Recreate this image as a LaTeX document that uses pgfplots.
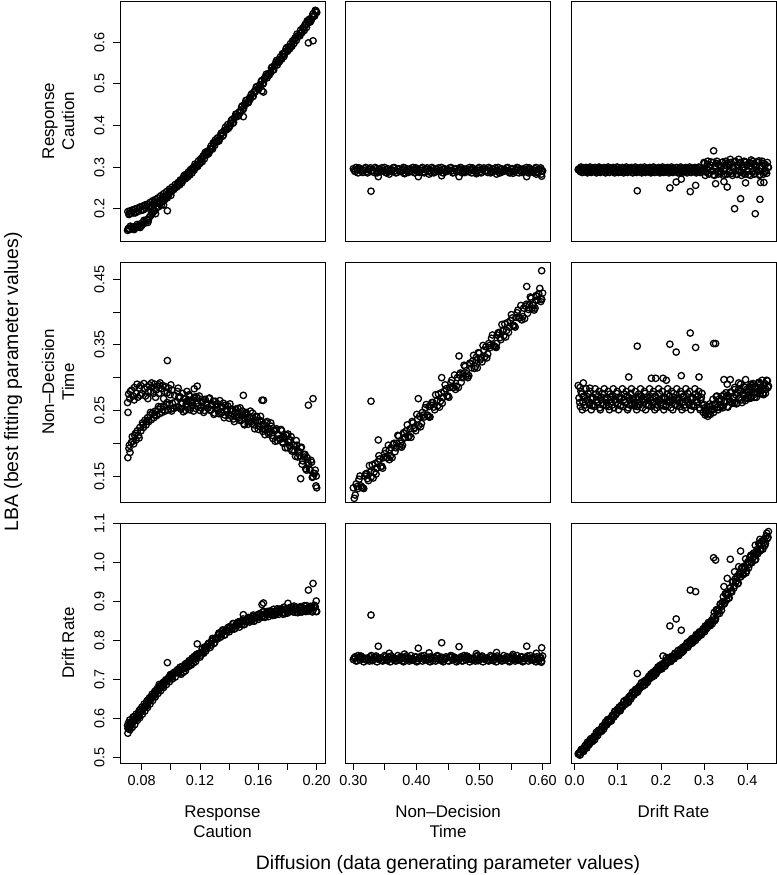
\documentclass[border=0pt]{standalone}
\usepackage{fontspec}
\setmainfont{Liberation Sans}
\usepackage{pgfplots}
\usepackage{pgfplotstable}
\pgfplotsset{compat=1.18}

% Column 1: x = diffusion response caution; y1,y2,y3 = LBA caution, non-decision time, drift rate
\pgfplotstableread{
x y1 y2 y3
0.0705 0.193 0.178 0.563
0.0712 0.186 0.192 0.580
0.0720 0.195 0.186 0.572
0.0728 0.189 0.201 0.586
0.0735 0.197 0.210 0.578
0.0745 0.190 0.199 0.594
0.0752 0.199 0.212 0.585
0.0760 0.192 0.205 0.601
0.0770 0.201 0.219 0.596
0.0778 0.194 0.212 0.611
0.0787 0.204 0.224 0.603
0.0795 0.196 0.219 0.618
0.0805 0.206 0.231 0.612
0.0812 0.198 0.224 0.627
0.0822 0.209 0.235 0.620
0.0830 0.201 0.228 0.636
0.0840 0.211 0.239 0.629
0.0848 0.205 0.233 0.645
0.0857 0.215 0.243 0.638
0.0866 0.208 0.236 0.653
0.0875 0.219 0.246 0.647
0.0884 0.211 0.239 0.662
0.0893 0.222 0.249 0.656
0.0902 0.215 0.242 0.671
0.0912 0.226 0.252 0.665
0.0921 0.219 0.245 0.679
0.0930 0.231 0.255 0.672
0.0940 0.224 0.247 0.687
0.0950 0.236 0.257 0.680
0.0960 0.230 0.249 0.695
0.0970 0.241 0.259 0.688
0.0980 0.236 0.251 0.702
0.0990 0.247 0.260 0.695
0.1000 0.241 0.252 0.710
0.1010 0.252 0.261 0.702
0.1020 0.246 0.253 0.715
0.1030 0.258 0.262 0.707
0.1040 0.252 0.255 0.719
0.0715 0.188 0.197 0.575
0.0738 0.196 0.203 0.590
0.0757 0.190 0.215 0.597
0.0782 0.200 0.208 0.607
0.0808 0.197 0.228 0.624
0.0835 0.207 0.233 0.633
0.0860 0.204 0.247 0.650
0.0888 0.216 0.243 0.660
0.0915 0.213 0.256 0.676
0.0945 0.229 0.251 0.684
0.0975 0.226 0.262 0.699
0.1005 0.246 0.249 0.706
0.0703 0.148 0.262 0.583
0.0706 0.151 0.247 0.575
0.0710 0.153 0.275 0.590
0.0718 0.150 0.268 0.597
0.0731 0.155 0.281 0.593
0.0740 0.152 0.272 0.604
0.0750 0.157 0.285 0.600
0.0762 0.154 0.276 0.612
0.0773 0.159 0.270 0.609
0.0783 0.157 0.284 0.621
0.0793 0.164 0.288 0.617
0.0801 0.160 0.276 0.630
0.0817 0.169 0.283 0.638
0.0826 0.166 0.272 0.634
0.0836 0.174 0.286 0.646
0.0845 0.172 0.278 0.642
0.0853 0.180 0.289 0.654
0.0862 0.184 0.279 0.651
0.0871 0.187 0.286 0.663
0.0880 0.193 0.276 0.660
0.0889 0.195 0.290 0.670
0.0898 0.200 0.281 0.667
0.0908 0.204 0.287 0.678
0.0917 0.205 0.276 0.674
0.0926 0.212 0.292 0.685
0.0935 0.209 0.283 0.681
0.0945 0.218 0.288 0.692
0.0955 0.220 0.279 0.690
0.0965 0.226 0.286 0.700
0.0975 0.230 0.277 0.697
0.0985 0.233 0.284 0.706
0.0995 0.240 0.274 0.712
0.1008 0.243 0.281 0.714
0.1025 0.249 0.273 0.720
0.1045 0.256 0.279 0.726
0.1062 0.263 0.271 0.732
0.1080 0.270 0.276 0.735
0.1100 0.277 0.268 0.741
0.1125 0.284 0.274 0.749
0.1150 0.295 0.266 0.756
0.1175 0.300 0.271 0.765
0.1181 0.306 0.287 0.792
0.0722 0.158 0.279 0.588
0.0748 0.150 0.266 0.606
0.0768 0.162 0.290 0.603
0.0790 0.155 0.273 0.624
0.0815 0.172 0.291 0.628
0.0842 0.167 0.268 0.648
0.0868 0.190 0.292 0.656
0.0895 0.188 0.270 0.672
0.0920 0.215 0.289 0.688
0.0950 0.209 0.268 0.694
0.1000 0.232 0.289 0.714
0.1050 0.262 0.284 0.722
0.1110 0.283 0.279 0.743
0.1160 0.298 0.283 0.760
0.105 0.263 0.255 0.718
0.106 0.257 0.269 0.726
0.107 0.267 0.252 0.714
0.108 0.267 0.261 0.728
0.109 0.279 0.268 0.732
0.110 0.272 0.250 0.723
0.111 0.281 0.264 0.736
0.112 0.288 0.266 0.734
0.113 0.281 0.251 0.749
0.114 0.292 0.262 0.738
0.115 0.298 0.257 0.749
0.116 0.293 0.270 0.757
0.117 0.303 0.253 0.747
0.118 0.303 0.261 0.761
0.119 0.315 0.268 0.767
0.120 0.309 0.250 0.758
0.121 0.318 0.264 0.771
0.122 0.326 0.265 0.770
0.123 0.320 0.250 0.784
0.124 0.332 0.260 0.774
0.125 0.338 0.254 0.785
0.126 0.333 0.268 0.794
0.127 0.344 0.250 0.783
0.128 0.345 0.258 0.798
0.129 0.358 0.264 0.803
0.130 0.352 0.246 0.795
0.131 0.361 0.259 0.807
0.132 0.370 0.260 0.805
0.133 0.363 0.245 0.820
0.134 0.376 0.255 0.809
0.135 0.382 0.248 0.819
0.136 0.377 0.261 0.826
0.137 0.388 0.243 0.815
0.138 0.389 0.251 0.828
0.139 0.402 0.257 0.833
0.140 0.396 0.238 0.823
0.141 0.405 0.251 0.834
0.142 0.414 0.252 0.831
0.143 0.407 0.237 0.844
0.144 0.420 0.247 0.832
0.145 0.426 0.240 0.841
0.146 0.422 0.253 0.848
0.147 0.433 0.235 0.835
0.148 0.434 0.243 0.848
0.149 0.447 0.249 0.851
0.150 0.442 0.230 0.841
0.151 0.452 0.243 0.851
0.152 0.460 0.245 0.848
0.153 0.454 0.229 0.860
0.154 0.466 0.240 0.848
0.155 0.473 0.233 0.856
0.156 0.469 0.246 0.862
0.157 0.479 0.228 0.850
0.158 0.481 0.234 0.862
0.159 0.493 0.240 0.866
0.160 0.488 0.221 0.855
0.161 0.497 0.234 0.865
0.162 0.506 0.234 0.861
0.163 0.499 0.218 0.874
0.164 0.512 0.227 0.861
0.165 0.518 0.220 0.869
0.166 0.514 0.233 0.875
0.167 0.524 0.214 0.862
0.168 0.526 0.221 0.873
0.169 0.538 0.226 0.876
0.170 0.533 0.207 0.865
0.171 0.543 0.220 0.875
0.172 0.551 0.220 0.870
0.173 0.545 0.204 0.882
0.174 0.557 0.213 0.868
0.175 0.564 0.206 0.876
0.176 0.559 0.219 0.882
0.177 0.570 0.200 0.868
0.178 0.571 0.207 0.880
0.179 0.584 0.212 0.882
0.180 0.578 0.193 0.871
0.181 0.588 0.205 0.880
0.182 0.596 0.205 0.876
0.183 0.590 0.188 0.887
0.184 0.602 0.197 0.874
0.185 0.609 0.188 0.881
0.186 0.604 0.204 0.886
0.187 0.615 0.179 0.872
0.188 0.616 0.187 0.884
0.189 0.629 0.193 0.886
0.190 0.623 0.168 0.874
0.191 0.633 0.183 0.883
0.192 0.642 0.183 0.879
0.193 0.635 0.159 0.890
0.194 0.648 0.171 0.876
0.195 0.655 0.160 0.883
0.196 0.651 0.174 0.888
0.197 0.662 0.148 0.874
0.198 0.663 0.154 0.885
0.199 0.676 0.159 0.887
0.200 0.671 0.132 0.875
0.1055 0.258 0.271 0.723
0.1065 0.269 0.253 0.717
0.1075 0.262 0.262 0.733
0.1085 0.273 0.248 0.719
0.1095 0.281 0.268 0.731
0.1105 0.276 0.260 0.730
0.1115 0.276 0.256 0.741
0.1125 0.282 0.272 0.744
0.1135 0.294 0.254 0.739
0.1145 0.286 0.263 0.755
0.1155 0.298 0.249 0.743
0.1165 0.307 0.268 0.755
0.1175 0.302 0.260 0.755
0.1185 0.302 0.256 0.766
0.1195 0.308 0.272 0.768
0.1205 0.320 0.254 0.763
0.1215 0.313 0.262 0.780
0.1225 0.326 0.247 0.768
0.1235 0.335 0.267 0.780
0.1245 0.330 0.258 0.780
0.1255 0.331 0.254 0.792
0.1265 0.338 0.269 0.794
0.1275 0.350 0.251 0.789
0.1285 0.343 0.260 0.806
0.1295 0.356 0.244 0.793
0.1305 0.365 0.264 0.806
0.1315 0.361 0.255 0.805
0.1325 0.362 0.250 0.816
0.1335 0.368 0.265 0.818
0.1345 0.381 0.246 0.812
0.1355 0.374 0.255 0.828
0.1365 0.387 0.239 0.815
0.1375 0.396 0.258 0.826
0.1385 0.391 0.249 0.824
0.1395 0.393 0.244 0.835
0.1405 0.399 0.260 0.836
0.1415 0.412 0.241 0.829
0.1425 0.405 0.249 0.844
0.1435 0.417 0.233 0.830
0.1445 0.427 0.252 0.841
0.1455 0.422 0.244 0.839
0.1465 0.424 0.239 0.848
0.1475 0.431 0.254 0.849
0.1485 0.444 0.235 0.842
0.1495 0.438 0.243 0.856
0.1505 0.450 0.228 0.842
0.1515 0.460 0.247 0.852
0.1525 0.455 0.239 0.850
0.1535 0.457 0.234 0.859
0.1545 0.464 0.249 0.859
0.1555 0.476 0.230 0.852
0.1565 0.470 0.238 0.866
0.1575 0.483 0.222 0.852
0.1585 0.492 0.241 0.862
0.1595 0.488 0.232 0.859
0.1605 0.489 0.226 0.869
0.1615 0.496 0.241 0.869
0.1625 0.508 0.222 0.861
0.1635 0.501 0.229 0.875
0.1645 0.514 0.213 0.860
0.1655 0.523 0.231 0.870
0.1665 0.519 0.222 0.867
0.1675 0.521 0.217 0.876
0.1685 0.527 0.231 0.876
0.1695 0.540 0.212 0.868
0.1705 0.533 0.219 0.881
0.1715 0.546 0.203 0.866
0.1725 0.556 0.222 0.876
0.1735 0.551 0.212 0.872
0.1745 0.553 0.207 0.881
0.1755 0.559 0.221 0.880
0.1765 0.572 0.202 0.872
0.1775 0.565 0.210 0.886
0.1785 0.577 0.193 0.870
0.1795 0.587 0.212 0.880
0.1805 0.582 0.202 0.876
0.1815 0.584 0.196 0.885
0.1825 0.591 0.210 0.884
0.1835 0.603 0.190 0.875
0.1845 0.597 0.197 0.889
0.1855 0.609 0.180 0.873
0.1865 0.619 0.197 0.882
0.1875 0.614 0.187 0.879
0.1885 0.615 0.181 0.887
0.1895 0.622 0.194 0.886
0.1905 0.634 0.173 0.877
0.1915 0.628 0.179 0.890
0.1925 0.641 0.161 0.875
0.1935 0.651 0.178 0.884
0.1945 0.647 0.167 0.880
0.1955 0.648 0.159 0.888
0.1965 0.655 0.171 0.887
0.1975 0.668 0.149 0.878
0.1985 0.662 0.154 0.891
0.1995 0.675 0.135 0.875
0.0976 0.195 0.326 0.744
0.1497 0.421 0.273 0.867
0.1625 0.483 0.2655 0.893
0.1635 0.480 0.2655 0.897
0.1803 0.581 0.214 0.896
0.1890 0.622 0.146 0.874
0.1943 0.598 0.258 0.930
0.1975 0.603 0.268 0.947
0.1997 0.672 0.150 0.902
}\colA

% Column 2: x = diffusion non-decision time
\pgfplotstableread{
x y1 y2 y3
0.300 0.296 0.132 0.752
0.303 0.289 0.121 0.759
0.306 0.294 0.134 0.749
0.309 0.298 0.145 0.757
0.312 0.291 0.135 0.761
0.315 0.287 0.132 0.753
0.318 0.296 0.150 0.755
0.321 0.289 0.154 0.750
0.324 0.294 0.143 0.752
0.327 0.298 0.156 0.759
0.330 0.291 0.167 0.749
0.333 0.287 0.156 0.757
0.336 0.296 0.153 0.761
0.339 0.289 0.172 0.753
0.342 0.294 0.176 0.755
0.345 0.298 0.165 0.750
0.348 0.291 0.178 0.752
0.351 0.287 0.189 0.759
0.354 0.296 0.178 0.749
0.357 0.289 0.175 0.757
0.360 0.294 0.193 0.761
0.363 0.298 0.198 0.753
0.366 0.291 0.187 0.755
0.369 0.287 0.200 0.750
0.372 0.296 0.211 0.752
0.375 0.289 0.200 0.759
0.378 0.294 0.197 0.749
0.381 0.298 0.215 0.757
0.384 0.291 0.219 0.761
0.387 0.287 0.209 0.753
0.390 0.296 0.222 0.755
0.393 0.289 0.233 0.750
0.396 0.294 0.222 0.752
0.399 0.298 0.219 0.759
0.402 0.291 0.237 0.749
0.405 0.287 0.241 0.757
0.408 0.296 0.230 0.761
0.411 0.289 0.243 0.753
0.414 0.294 0.254 0.755
0.417 0.298 0.243 0.750
0.420 0.291 0.240 0.752
0.423 0.287 0.258 0.759
0.426 0.296 0.262 0.749
0.429 0.289 0.251 0.757
0.432 0.294 0.264 0.761
0.435 0.298 0.275 0.753
0.438 0.291 0.264 0.755
0.441 0.287 0.261 0.750
0.444 0.296 0.279 0.752
0.447 0.289 0.283 0.759
0.450 0.294 0.272 0.749
0.453 0.298 0.285 0.757
0.456 0.291 0.296 0.761
0.459 0.287 0.285 0.753
0.462 0.296 0.282 0.755
0.465 0.289 0.300 0.750
0.468 0.294 0.304 0.752
0.471 0.298 0.293 0.759
0.474 0.291 0.306 0.749
0.477 0.287 0.317 0.757
0.480 0.296 0.306 0.761
0.483 0.289 0.303 0.753
0.486 0.294 0.321 0.755
0.489 0.298 0.325 0.750
0.492 0.291 0.314 0.752
0.495 0.287 0.327 0.759
0.498 0.296 0.338 0.749
0.501 0.289 0.327 0.757
0.504 0.294 0.324 0.761
0.507 0.298 0.342 0.753
0.510 0.291 0.347 0.755
0.513 0.287 0.336 0.750
0.516 0.296 0.349 0.752
0.519 0.289 0.360 0.759
0.522 0.294 0.349 0.749
0.525 0.298 0.347 0.757
0.528 0.291 0.365 0.761
0.531 0.287 0.369 0.753
0.534 0.296 0.358 0.755
0.537 0.289 0.371 0.750
0.540 0.294 0.382 0.752
0.543 0.298 0.372 0.759
0.546 0.291 0.369 0.749
0.549 0.287 0.387 0.757
0.552 0.296 0.391 0.761
0.555 0.289 0.379 0.753
0.558 0.294 0.392 0.755
0.561 0.298 0.403 0.750
0.564 0.291 0.391 0.752
0.567 0.287 0.388 0.759
0.570 0.296 0.406 0.749
0.573 0.289 0.409 0.757
0.576 0.294 0.398 0.761
0.579 0.298 0.411 0.753
0.582 0.291 0.421 0.755
0.585 0.287 0.410 0.750
0.588 0.296 0.406 0.752
0.591 0.289 0.424 0.759
0.594 0.294 0.428 0.749
0.597 0.298 0.416 0.757
0.600 0.291 0.429 0.761
0.3015 0.292 0.116 0.756
0.3045 0.299 0.138 0.748
0.3075 0.286 0.131 0.762
0.3105 0.295 0.150 0.751
0.3135 0.290 0.133 0.758
0.3165 0.292 0.131 0.746
0.3195 0.299 0.153 0.754
0.3225 0.286 0.146 0.756
0.3255 0.295 0.166 0.748
0.3285 0.290 0.149 0.762
0.3315 0.292 0.147 0.751
0.3345 0.299 0.169 0.758
0.3375 0.286 0.162 0.746
0.3405 0.295 0.181 0.754
0.3435 0.290 0.164 0.756
0.3465 0.292 0.162 0.748
0.3495 0.299 0.184 0.762
0.3525 0.286 0.178 0.751
0.3555 0.295 0.197 0.758
0.3585 0.290 0.180 0.746
0.3615 0.292 0.178 0.754
0.3645 0.299 0.200 0.756
0.3675 0.286 0.193 0.748
0.3705 0.295 0.212 0.762
0.3735 0.290 0.195 0.751
0.3765 0.292 0.194 0.758
0.3795 0.299 0.216 0.746
0.3825 0.286 0.209 0.754
0.3855 0.295 0.228 0.756
0.3885 0.290 0.211 0.748
0.3915 0.292 0.209 0.762
0.3945 0.299 0.231 0.751
0.3975 0.286 0.224 0.758
0.4005 0.295 0.244 0.746
0.4035 0.290 0.227 0.754
0.4065 0.292 0.225 0.756
0.4095 0.299 0.247 0.748
0.4125 0.286 0.240 0.762
0.4155 0.295 0.259 0.751
0.4185 0.290 0.242 0.758
0.4215 0.292 0.240 0.746
0.4245 0.299 0.262 0.754
0.4275 0.286 0.255 0.756
0.4305 0.295 0.274 0.748
0.4335 0.290 0.257 0.762
0.4365 0.292 0.255 0.751
0.4395 0.299 0.277 0.758
0.4425 0.286 0.270 0.746
0.4455 0.295 0.289 0.754
0.4485 0.290 0.272 0.756
0.4515 0.292 0.270 0.748
0.4545 0.299 0.292 0.762
0.4575 0.286 0.285 0.751
0.4605 0.295 0.304 0.758
0.4635 0.290 0.287 0.746
0.4665 0.292 0.285 0.754
0.4695 0.299 0.307 0.756
0.4725 0.286 0.300 0.748
0.4755 0.295 0.319 0.762
0.4785 0.290 0.302 0.751
0.4815 0.292 0.300 0.758
0.4845 0.299 0.322 0.746
0.4875 0.286 0.315 0.754
0.4905 0.295 0.334 0.756
0.4935 0.290 0.317 0.748
0.4965 0.292 0.315 0.762
0.4995 0.299 0.337 0.751
0.5025 0.286 0.330 0.758
0.5055 0.295 0.349 0.746
0.5085 0.290 0.332 0.754
0.5115 0.292 0.330 0.756
0.5145 0.299 0.352 0.748
0.5175 0.286 0.346 0.762
0.5205 0.295 0.365 0.751
0.5235 0.290 0.348 0.758
0.5265 0.292 0.346 0.746
0.5295 0.299 0.368 0.754
0.5325 0.286 0.361 0.756
0.5355 0.295 0.381 0.748
0.5385 0.290 0.364 0.762
0.5415 0.292 0.362 0.751
0.5445 0.299 0.384 0.758
0.5475 0.286 0.377 0.746
0.5505 0.295 0.396 0.754
0.5535 0.290 0.379 0.756
0.5565 0.292 0.377 0.748
0.5595 0.299 0.399 0.762
0.5625 0.286 0.391 0.751
0.5655 0.295 0.410 0.758
0.5685 0.290 0.393 0.746
0.5715 0.292 0.390 0.754
0.5745 0.299 0.412 0.756
0.5775 0.286 0.404 0.748
0.5805 0.295 0.423 0.762
0.5835 0.290 0.406 0.751
0.5865 0.292 0.403 0.758
0.5895 0.299 0.425 0.746
0.5925 0.286 0.418 0.754
0.5955 0.295 0.436 0.756
0.5985 0.290 0.419 0.748
0.328 0.242 0.264 0.866
0.3396 0.277 0.205 0.786
0.403 0.277 0.268 0.781
0.440 0.279 0.300 0.795
0.4675 0.277 0.333 0.785
0.5748 0.277 0.439 0.786
0.5985 0.278 0.463 0.782
0.357 0.283 0.190 0.768
0.381 0.284 0.208 0.766
0.420 0.283 0.256 0.769
0.495 0.284 0.331 0.767
0.527 0.283 0.352 0.770
0.553 0.285 0.380 0.765
0.590 0.283 0.418 0.768
0.598 0.283 0.420 0.745
}\colB

% Column 3: x = diffusion drift rate
\pgfplotstableread{
x y1 y2 y3
0.010 0.296 0.269 0.512
0.013 0.289 0.256 0.508
0.016 0.294 0.275 0.522
0.019 0.298 0.263 0.518
0.022 0.291 0.272 0.524
0.025 0.288 0.254 0.532
0.028 0.295 0.266 0.525
0.031 0.297 0.276 0.537
0.034 0.290 0.259 0.535
0.037 0.296 0.268 0.549
0.040 0.289 0.257 0.542
0.043 0.294 0.269 0.550
0.046 0.298 0.256 0.546
0.049 0.291 0.275 0.560
0.052 0.288 0.263 0.556
0.055 0.295 0.272 0.570
0.058 0.297 0.254 0.566
0.061 0.290 0.266 0.572
0.064 0.296 0.276 0.581
0.067 0.289 0.259 0.573
0.070 0.294 0.268 0.585
0.073 0.298 0.257 0.584
0.076 0.291 0.269 0.598
0.079 0.288 0.256 0.591
0.082 0.295 0.275 0.599
0.085 0.297 0.263 0.595
0.088 0.290 0.272 0.609
0.091 0.296 0.254 0.605
0.094 0.289 0.266 0.619
0.097 0.294 0.276 0.615
0.100 0.298 0.259 0.621
0.103 0.291 0.268 0.630
0.106 0.288 0.257 0.622
0.109 0.295 0.269 0.634
0.112 0.297 0.256 0.632
0.115 0.290 0.275 0.646
0.118 0.296 0.263 0.638
0.121 0.289 0.272 0.647
0.124 0.294 0.254 0.642
0.127 0.298 0.266 0.656
0.130 0.291 0.276 0.651
0.133 0.288 0.259 0.666
0.136 0.295 0.268 0.662
0.139 0.297 0.257 0.667
0.142 0.290 0.269 0.676
0.145 0.296 0.256 0.668
0.148 0.289 0.275 0.680
0.151 0.294 0.263 0.678
0.154 0.298 0.272 0.691
0.157 0.291 0.254 0.683
0.160 0.288 0.266 0.692
0.163 0.295 0.276 0.687
0.166 0.297 0.259 0.700
0.169 0.290 0.268 0.695
0.172 0.296 0.257 0.709
0.175 0.289 0.269 0.705
0.178 0.294 0.256 0.710
0.181 0.298 0.275 0.718
0.184 0.291 0.263 0.710
0.187 0.288 0.272 0.721
0.190 0.295 0.254 0.719
0.193 0.297 0.266 0.733
0.196 0.290 0.276 0.725
0.199 0.296 0.259 0.733
0.202 0.289 0.268 0.728
0.205 0.294 0.257 0.740
0.208 0.298 0.269 0.735
0.211 0.291 0.256 0.749
0.214 0.288 0.275 0.743
0.217 0.295 0.263 0.748
0.220 0.297 0.272 0.756
0.223 0.290 0.254 0.747
0.226 0.296 0.266 0.758
0.229 0.289 0.276 0.756
0.232 0.294 0.259 0.768
0.235 0.298 0.268 0.760
0.238 0.291 0.257 0.767
0.241 0.288 0.269 0.762
0.244 0.295 0.256 0.775
0.247 0.297 0.275 0.769
0.250 0.290 0.263 0.783
0.253 0.296 0.272 0.778
0.256 0.289 0.254 0.783
0.259 0.294 0.266 0.791
0.262 0.298 0.276 0.783
0.265 0.291 0.259 0.794
0.268 0.288 0.268 0.792
0.271 0.295 0.257 0.805
0.274 0.297 0.269 0.798
0.277 0.290 0.256 0.806
0.280 0.296 0.275 0.801
0.283 0.289 0.263 0.814
0.286 0.294 0.272 0.809
0.289 0.298 0.254 0.823
0.292 0.291 0.266 0.818
0.295 0.288 0.276 0.823
0.298 0.295 0.247 0.831
0.301 0.309 0.254 0.823
0.304 0.288 0.246 0.835
0.307 0.306 0.255 0.833
0.310 0.285 0.245 0.847
0.313 0.300 0.260 0.840
0.316 0.312 0.250 0.848
0.319 0.291 0.258 0.844
0.322 0.282 0.247 0.862
0.325 0.303 0.260 0.852
0.328 0.309 0.271 0.879
0.331 0.288 0.255 0.869
0.334 0.306 0.264 0.879
0.337 0.285 0.254 0.894
0.340 0.300 0.266 0.878
0.343 0.312 0.254 0.900
0.346 0.291 0.274 0.895
0.349 0.282 0.262 0.921
0.352 0.303 0.272 0.905
0.355 0.309 0.255 0.921
0.358 0.288 0.267 0.910
0.361 0.306 0.278 0.936
0.364 0.285 0.262 0.925
0.367 0.300 0.271 0.952
0.370 0.312 0.261 0.941
0.373 0.291 0.274 0.950
0.376 0.282 0.261 0.965
0.379 0.303 0.281 0.948
0.382 0.309 0.270 0.969
0.385 0.288 0.279 0.964
0.388 0.306 0.262 0.988
0.391 0.285 0.275 0.971
0.394 0.300 0.285 0.986
0.397 0.312 0.269 0.974
0.400 0.291 0.279 0.999
0.403 0.282 0.268 0.987
0.406 0.303 0.281 1.014
0.409 0.309 0.269 1.002
0.412 0.288 0.288 1.010
0.415 0.306 0.277 1.025
0.418 0.285 0.287 1.007
0.421 0.300 0.270 1.028
0.424 0.312 0.282 1.023
0.427 0.291 0.293 1.048
0.430 0.282 0.277 1.031
0.433 0.303 0.286 1.046
0.436 0.309 0.276 1.035
0.439 0.288 0.289 1.060
0.442 0.306 0.276 1.049
0.445 0.285 0.296 1.076
0.448 0.300 0.285 1.065
0.0115 0.293 0.262 0.507
0.0145 0.300 0.279 0.520
0.0175 0.287 0.251 0.518
0.0205 0.296 0.270 0.516
0.0235 0.291 0.258 0.530
0.0265 0.299 0.283 0.527
0.0295 0.286 0.266 0.540
0.0325 0.293 0.262 0.533
0.0355 0.300 0.279 0.545
0.0385 0.287 0.251 0.544
0.0415 0.296 0.270 0.542
0.0445 0.291 0.258 0.555
0.0475 0.299 0.283 0.553
0.0505 0.286 0.266 0.566
0.0535 0.293 0.262 0.558
0.0565 0.300 0.279 0.571
0.0595 0.287 0.251 0.570
0.0625 0.296 0.270 0.568
0.0655 0.291 0.258 0.582
0.0685 0.299 0.283 0.579
0.0715 0.286 0.266 0.592
0.0745 0.293 0.262 0.585
0.0775 0.300 0.279 0.598
0.0805 0.287 0.251 0.596
0.0835 0.296 0.270 0.594
0.0865 0.291 0.258 0.608
0.0895 0.299 0.283 0.606
0.0925 0.286 0.266 0.619
0.0955 0.293 0.262 0.611
0.0985 0.300 0.279 0.624
0.1015 0.287 0.251 0.623
0.1045 0.296 0.270 0.620
0.1075 0.291 0.258 0.634
0.1105 0.299 0.283 0.631
0.1135 0.286 0.266 0.644
0.1165 0.293 0.262 0.637
0.1195 0.300 0.279 0.649
0.1225 0.287 0.251 0.648
0.1255 0.296 0.270 0.645
0.1285 0.291 0.258 0.659
0.1315 0.299 0.283 0.656
0.1345 0.286 0.266 0.669
0.1375 0.293 0.262 0.661
0.1405 0.300 0.279 0.674
0.1435 0.287 0.251 0.672
0.1465 0.296 0.270 0.670
0.1495 0.291 0.258 0.683
0.1525 0.299 0.283 0.681
0.1555 0.286 0.266 0.693
0.1585 0.293 0.262 0.685
0.1615 0.300 0.279 0.697
0.1645 0.287 0.251 0.695
0.1675 0.296 0.270 0.693
0.1705 0.291 0.258 0.706
0.1735 0.299 0.283 0.703
0.1765 0.286 0.266 0.715
0.1795 0.293 0.262 0.707
0.1825 0.300 0.279 0.720
0.1855 0.287 0.251 0.718
0.1885 0.296 0.270 0.715
0.1915 0.291 0.258 0.728
0.1945 0.299 0.283 0.725
0.1975 0.286 0.266 0.737
0.2005 0.293 0.262 0.729
0.2035 0.300 0.279 0.741
0.2065 0.287 0.251 0.739
0.2095 0.296 0.270 0.735
0.2125 0.291 0.258 0.748
0.2155 0.299 0.283 0.745
0.2185 0.286 0.266 0.756
0.2215 0.293 0.262 0.748
0.2245 0.300 0.279 0.760
0.2275 0.287 0.251 0.757
0.2305 0.296 0.270 0.754
0.2335 0.291 0.258 0.767
0.2365 0.299 0.283 0.763
0.2395 0.286 0.266 0.775
0.2425 0.293 0.262 0.766
0.2455 0.300 0.279 0.778
0.2485 0.287 0.251 0.776
0.2515 0.296 0.270 0.773
0.2545 0.291 0.258 0.786
0.2575 0.299 0.283 0.783
0.2605 0.286 0.266 0.795
0.2635 0.293 0.262 0.787
0.2665 0.300 0.279 0.799
0.2695 0.287 0.251 0.797
0.2725 0.296 0.270 0.794
0.2755 0.291 0.258 0.807
0.2785 0.299 0.283 0.804
0.2815 0.286 0.266 0.816
0.2845 0.293 0.262 0.808
0.2875 0.300 0.279 0.820
0.2905 0.287 0.251 0.818
0.2935 0.296 0.270 0.815
0.2965 0.291 0.258 0.828
0.2995 0.311 0.259 0.826
0.3025 0.280 0.243 0.838
0.3055 0.297 0.249 0.831
0.3085 0.314 0.241 0.843
0.3115 0.283 0.256 0.842
0.3145 0.305 0.244 0.839
0.3175 0.290 0.252 0.853
0.3205 0.311 0.267 0.851
0.3235 0.280 0.252 0.873
0.3265 0.297 0.260 0.856
0.3295 0.314 0.272 0.880
0.3325 0.283 0.251 0.876
0.3355 0.305 0.268 0.870
0.3385 0.290 0.258 0.895
0.3415 0.311 0.272 0.889
0.3445 0.280 0.257 0.913
0.3475 0.297 0.264 0.896
0.3505 0.314 0.277 0.920
0.3535 0.283 0.256 0.916
0.3565 0.305 0.272 0.909
0.3595 0.290 0.263 0.935
0.3625 0.311 0.277 0.928
0.3655 0.280 0.261 0.951
0.3685 0.297 0.269 0.935
0.3715 0.314 0.282 0.958
0.3745 0.283 0.260 0.953
0.3775 0.305 0.277 0.946
0.3805 0.290 0.268 0.971
0.3835 0.311 0.281 0.964
0.3865 0.280 0.266 0.986
0.3895 0.297 0.274 0.969
0.3925 0.314 0.286 0.991
0.3955 0.283 0.265 0.986
0.3985 0.305 0.282 0.979
0.4015 0.290 0.272 1.003
0.4045 0.311 0.286 0.996
0.4075 0.280 0.271 1.018
0.4105 0.297 0.278 1.000
0.4135 0.314 0.291 1.023
0.4165 0.283 0.270 1.017
0.4195 0.305 0.286 1.009
0.4225 0.290 0.277 1.034
0.4255 0.311 0.291 1.027
0.4285 0.280 0.275 1.050
0.4315 0.297 0.283 1.033
0.4345 0.314 0.296 1.056
0.4375 0.283 0.274 1.051
0.4405 0.305 0.291 1.044
0.4435 0.290 0.282 1.069
0.4465 0.311 0.295 1.062
0.4490 0.299 0.287 1.080
0.145 0.243 0.348 0.716
0.2205 0.250 0.351 0.838
0.2352 0.264 0.339 0.856
0.247 0.271 0.303 0.827
0.2678 0.241 0.368 0.930
0.2802 0.256 0.346 0.926
0.3219 0.339 0.352 1.013
0.3265 0.260 0.352 1.007
0.3458 0.265 0.297 0.939
0.3535 0.252 0.290 0.960
0.3605 0.3185 0.297 1.009
0.3705 0.200 0.285 0.977
0.3844 0.224 0.290 1.030
0.396 0.262 0.297 1.010
0.4184 0.188 0.275 1.045
0.4292 0.2225 0.280 1.060
0.4307 0.263 0.290 1.035
0.4385 0.263 0.283 1.060
0.380 0.3185 0.292 0.990
0.409 0.317 0.290 1.020
0.427 0.315 0.292 1.050
0.1251 0.290 0.301 0.655
0.1777 0.290 0.299 0.715
0.1877 0.292 0.299 0.725
0.2047 0.290 0.299 0.761
0.2124 0.292 0.296 0.757
0.2880 0.290 0.301 0.815
0.008 0.294 0.288 0.510
0.012 0.291 0.285 0.515
0.020 0.296 0.292 0.520
0.035 0.293 0.284 0.540
}\colC

\newcommand{\tickfont}{\fontsize{14.5}{16}\selectfont}
\newcommand{\labfont}{\fontsize{17}{20}\selectfont}
\newcommand{\outfont}{\fontsize{19.5}{22}\selectfont}

\pgfplotsset{
  panel/.style={
    scale only axis, width=205bp, height=240bp, anchor=north west,
    axis line style={line width=0.8bp, black},
    xtick=\empty, ytick=\empty,
    tick align=outside, major tick length=7bp,
    tick style={black, line width=0.8bp},
    tick label style={font=\tickfont},
    xtick pos=left, ytick pos=left,
    xticklabel shift=2bp, yticklabel shift=5bp,
    yticklabel style={rotate=90},
  },
  dots/.style={only marks, mark=o, mark size=3.2bp, black,
    mark options={line width=1.3bp, black}},
  c1/.style={xmin=0.0651, xmax=0.2057},
  c2/.style={xmin=0.2876, xmax=0.6125},
  c3/.style={xmin=-0.0086, xmax=0.4665},
  r1/.style={ymin=0.1225, ymax=0.6985},
  r2/.style={ymin=0.1104, ymax=0.4763},
  r3/.style={ymin=0.4866, ymax=1.1020},
  xt1/.style={xtick={0.08,0.10,0.12,0.14,0.16,0.18,0.20}, xticklabels={0.08,,0.12,,0.16,,0.20}},
  xt2/.style={xtick={0.30,0.35,0.40,0.45,0.50,0.55,0.60}, xticklabels={0.30,,0.40,,0.50,,0.60}},
  xt3/.style={xtick={0,0.1,0.2,0.3,0.4}, xticklabels={0.0,0.1,0.2,0.3,0.4}},
  yt1/.style={ytick={0.2,0.3,0.4,0.5,0.6}, yticklabels={0.2,0.3,0.4,0.5,0.6}},
  yt2/.style={ytick={0.15,0.20,0.25,0.30,0.35,0.40,0.45}, yticklabels={0.15,,0.25,,0.35,,0.45}},
  yt3/.style={ytick={0.5,0.6,0.7,0.8,0.9,1.0,1.1}, yticklabels={0.5,0.6,0.7,0.8,0.9,1.0,1.1}},
}

\begin{document}
\begin{tikzpicture}
\path[use as bounding box] (0,0) rectangle (777bp,-875bp);

% Row 1
\begin{axis}[panel, c1, r1, yt1, at={(120bp,-1bp)}]
\addplot[dots] table[x=x, y=y1] {\colA};
\end{axis}
\begin{axis}[panel, c2, r1, at={(345.5bp,-1bp)}]
\addplot[dots] table[x=x, y=y1] {\colB};
\end{axis}
\begin{axis}[panel, c3, r1, at={(571bp,-1bp)}]
\addplot[dots] table[x=x, y=y1] {\colC};
\end{axis}

% Row 2
\begin{axis}[panel, c1, r2, yt2, at={(120bp,-262bp)}]
\addplot[dots] table[x=x, y=y2] {\colA};
\end{axis}
\begin{axis}[panel, c2, r2, at={(345.5bp,-262bp)}]
\addplot[dots] table[x=x, y=y2] {\colB};
\end{axis}
\begin{axis}[panel, c3, r2, at={(571bp,-262bp)}]
\addplot[dots] table[x=x, y=y2] {\colC};
\end{axis}

% Row 3
\begin{axis}[panel, c1, r3, yt3, xt1, at={(120bp,-523bp)}]
\addplot[dots] table[x=x, y=y3] {\colA};
\end{axis}
\begin{axis}[panel, c2, r3, xt2, at={(345.5bp,-523bp)}]
\addplot[dots] table[x=x, y=y3] {\colB};
\end{axis}
\begin{axis}[panel, c3, r3, xt3, at={(571bp,-523bp)}]
\addplot[dots] table[x=x, y=y3] {\colC};
\end{axis}

% Column labels (bottom)
\node[anchor=base, font=\labfont] at (222.5bp,-817bp) {Response};
\node[anchor=base, font=\labfont] at (222.5bp,-837bp) {Caution};
\node[anchor=base, font=\labfont] at (448bp,-817bp) {Non–Decision};
\node[anchor=base, font=\labfont] at (448bp,-837bp) {Time};
\node[anchor=base, font=\labfont] at (673.5bp,-817bp) {Drift Rate};
\node[anchor=base, font=\outfont] at (448bp,-869bp) {Diffusion (data generating parameter values)};

% Row labels (left)
\node[anchor=base, rotate=90, font=\labfont] at (54bp,-121bp) {Response};
\node[anchor=base, rotate=90, font=\labfont] at (74bp,-121bp) {Caution};
\node[anchor=base, rotate=90, font=\labfont] at (54bp,-382bp) {Non–Decision};
\node[anchor=base, rotate=90, font=\labfont] at (74bp,-382bp) {Time};
\node[anchor=base, rotate=90, font=\labfont] at (74bp,-643bp) {Drift Rate};
\node[anchor=base, rotate=90, font=\outfont] at (18bp,-382bp) {LBA (best fitting parameter values)};
\end{tikzpicture}
\end{document}
